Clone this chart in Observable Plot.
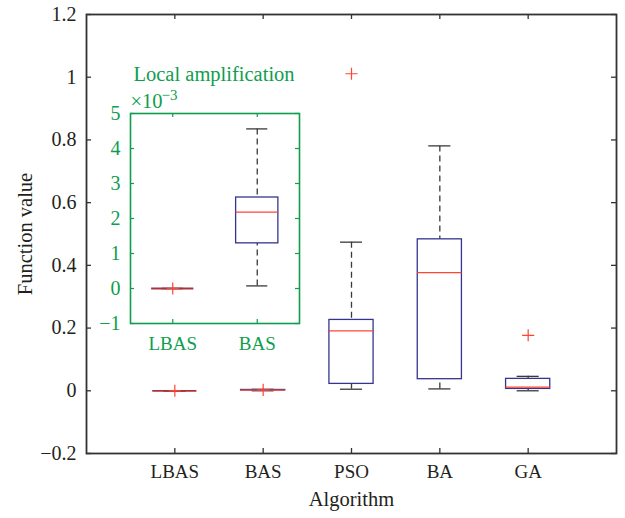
<!DOCTYPE html>
<html><head><meta charset="utf-8">
<script src="https://cdn.jsdelivr.net/npm/d3@7"></script>
<script src="https://cdn.jsdelivr.net/npm/@observablehq/plot@0.6"></script>
<style>
html,body{margin:0;padding:0;background:#fff;}
#chart{position:relative;width:625px;height:518px;}
#main{position:absolute;left:0;top:0;}
#inset{position:absolute;left:100px;top:60px;}
</style></head><body>
<div id="chart"><div id="main"></div><div id="inset"></div></div>
<script>
// ---- main chart data ----
const algorithms = ["LBAS", "BAS", "PSO", "BA", "GA"];
const lowerWhisker = [0, 0.00007, 0.005, 0.006, 0.000];
const q1 = [0, 0.00129, 0.022, 0.037, 0.006];
const median = [0, 0.00218, 0.191, 0.377, 0.0115];
const q3 = [0, 0.0026, 0.226, 0.483, 0.038];
const upperWhisker = [0, 0.00456, 0.474, 0.781, 0.046];
const outlierAlgorithm = ["LBAS", "BAS", "PSO", "GA"];
const outlierValue = [0, 0.003, 1.011, 0.177];
const yTicks = [-0.2, 0, 0.2, 0.4, 0.6, 0.8, 1, 1.2];
const yTickLabels = ["−0.2", "0", "0.2", "0.4", "0.6", "0.8", "1", "1.2"];
const yLabel = "Function value";
const xLabel = "Algorithm";

// ---- inset (local amplification, ×10^-3) data ----
const insetAlgorithms = ["LBAS", "BAS"];
const insetLower = [0, 0.074];
const insetQ1 = [0, 1.29];
const insetMedian = [0, 2.18];
const insetQ3 = [0, 2.6];
const insetUpper = [0, 4.56];
const insetOutlierAlgorithm = ["LBAS"];
const insetOutlierValue = [0];
const insetYTicks = [-1, 0, 1, 2, 3, 4, 5];
const insetYTickLabels = ["−1", "0", "1", "2", "3", "4", "5"];
const insetTitle = "Local amplification";
const insetExpBase = "×10";
const insetExp = "−3";

// ---- styles ----
const font = "'Liberation Serif', 'Times New Roman', serif";
const ink = "#231f20";
const axisColor = "#333333";
const green = "#0f9d4e";
const boxBlue = "#35358f";
const medianRed = "#ff4433";
const whiskerGray = "#3a3a3a";
const halfBox = 0.25, halfCap = 0.125, tickLen = 5;

function boxMarks(rows, outliers, opts) {
  return [
    Plot.ruleX(rows, {x: "pos", y1: "hi", y2: "q3", stroke: whiskerGray, strokeWidth: 1.3, strokeDasharray: "6,4"}),
    Plot.ruleX(rows, {x: "pos", y1: "lo", y2: "q1", stroke: whiskerGray, strokeWidth: 1.3, strokeDasharray: "6,4"}),
    Plot.ruleY(rows, {y: "hi", x1: d => d.pos - halfCap, x2: d => d.pos + halfCap, stroke: whiskerGray, strokeWidth: 1.3}),
    Plot.ruleY(rows, {y: "lo", x1: d => d.pos - halfCap, x2: d => d.pos + halfCap, stroke: whiskerGray, strokeWidth: 1.3}),
    Plot.rect(rows, {x1: d => d.pos - halfBox, x2: d => d.pos + halfBox, y1: "q1", y2: "q3", fill: "white", stroke: boxBlue, strokeWidth: 1.3}),
    Plot.ruleY(rows, {y: "q1", x1: d => d.pos - halfBox, x2: d => d.pos + halfBox, stroke: opts.flat, strokeWidth: 1.8, filter: d => d.q1 === d.q3}),
    Plot.ruleY(rows, {y: "med", x1: d => d.pos - halfBox, x2: d => d.pos + halfBox, stroke: medianRed, strokeWidth: 1.3, filter: d => d.q1 !== d.q3}),
    Plot.dot(outliers, {x: "pos", y: "v", symbol: "plus", r: 4, stroke: medianRed, strokeWidth: 1.2})
  ];
}

// ---- main ----
const W = 625, H = 518, mL = 86, mR = 9, mT = 14, mB = 65;
const fW = W - mL - mR, fH = H - mT - mB;
const xTicks = algorithms.map((_, i) => i + 1);
const rows = algorithms.map((a, i) => ({pos: i + 1, lo: lowerWhisker[i], q1: q1[i], med: median[i], q3: q3[i], hi: upperWhisker[i]}));
const outs = outlierAlgorithm.map((a, i) => ({pos: algorithms.indexOf(a) + 1, v: outlierValue[i]}));

const mainPlot = Plot.plot({
  width: W, height: H, marginLeft: mL, marginRight: mR, marginTop: mT, marginBottom: mB,
  style: {fontFamily: font, fontSize: "19px", color: ink, background: "transparent", overflow: "visible"},
  x: {domain: [0, 6]},
  y: {domain: [-0.2, 1.2]},
  marks: [
    Plot.axisX({ticks: xTicks, tickFormat: d => algorithms[d - 1], tickSize: 0, tickPadding: 11, label: null, fontSize: 19}),
    Plot.axisY({ticks: yTicks, tickFormat: d => yTickLabels[yTicks.indexOf(d)], tickSize: 0, tickPadding: 10, label: null, fontSize: 20}),
    Plot.tickY(yTicks, {y: d => d, insetRight: fW - tickLen, stroke: axisColor, strokeWidth: 1.3}),
    Plot.tickY(yTicks, {y: d => d, insetLeft: fW - tickLen, stroke: axisColor, strokeWidth: 1.3}),
    Plot.tickX(xTicks, {x: d => d, insetBottom: fH - tickLen, stroke: axisColor, strokeWidth: 1.3}),
    Plot.tickX(xTicks, {x: d => d, insetTop: fH - tickLen, stroke: axisColor, strokeWidth: 1.3}),
    ...boxMarks(rows, outs, {flat: "#a8323e"}),
    Plot.frame({stroke: axisColor, strokeWidth: 1.8}),
    Plot.text([yLabel], {frameAnchor: "left", dx: -61, rotate: -90, textAnchor: "middle", lineAnchor: "middle", fontSize: 20.5, fill: ink}),
    Plot.text([xLabel], {frameAnchor: "bottom", dy: 52, textAnchor: "middle", lineAnchor: "bottom", fontSize: 20.5, fill: ink})
  ]
});
document.getElementById("main").append(mainPlot);

// ---- inset ----
const iW = 205, iH = 303, imL = 30, imR = 6, imT = 53, imB = 40;
const ifW = iW - imL - imR, ifH = iH - imT - imB;
const iXTicks = insetAlgorithms.map((_, i) => i + 1);
const iRows = insetAlgorithms.map((a, i) => ({pos: i + 1, lo: insetLower[i], q1: insetQ1[i], med: insetMedian[i], q3: insetQ3[i], hi: insetUpper[i]}));
const iOuts = insetOutlierAlgorithm.map((a, i) => ({pos: insetAlgorithms.indexOf(a) + 1, v: insetOutlierValue[i]}));

const insetPlot = Plot.plot({
  width: iW, height: iH, marginLeft: imL, marginRight: imR, marginTop: imT, marginBottom: imB,
  style: {fontFamily: font, fontSize: "19px", color: green, background: "transparent", overflow: "visible"},
  x: {domain: [0.5, 2.5]},
  y: {domain: [-1, 5]},
  marks: [
    Plot.axisX({ticks: iXTicks, tickFormat: d => insetAlgorithms[d - 1], tickSize: 0, tickPadding: 12.5, label: null, fontSize: 19, fill: green}),
    Plot.axisY({ticks: insetYTicks, tickFormat: d => insetYTickLabels[insetYTicks.indexOf(d)], tickSize: 0, tickPadding: 10, label: null, fontSize: 20, fill: green}),
    Plot.tickY(insetYTicks, {y: d => d, insetRight: ifW - 4, stroke: green, strokeWidth: 1.2}),
    Plot.tickY(insetYTicks, {y: d => d, insetLeft: ifW - 4, stroke: green, strokeWidth: 1.2}),
    Plot.tickX(iXTicks, {x: d => d, insetBottom: ifH - 4, stroke: green, strokeWidth: 1.2}),
    Plot.tickX(iXTicks, {x: d => d, insetTop: ifH - 4, stroke: green, strokeWidth: 1.2}),
    ...boxMarks(iRows, iOuts, {flat: "#a8323e"}),
    Plot.frame({stroke: green, strokeWidth: 1.6}),
    Plot.text([insetTitle], {frameAnchor: "top-left", dx: 3, dy: -33, textAnchor: "start", lineAnchor: "bottom", fontSize: 20.5, fill: green}),
    Plot.text([insetExpBase], {frameAnchor: "top-left", dx: 0, dy: -6, textAnchor: "start", lineAnchor: "bottom", fontSize: 20.5, fill: green}),
    Plot.text([insetExp], {frameAnchor: "top-left", dx: 31, dy: -14, textAnchor: "start", lineAnchor: "bottom", fontSize: 15, fill: green})
  ]
});
document.getElementById("inset").append(insetPlot);
</script>
</body></html>
